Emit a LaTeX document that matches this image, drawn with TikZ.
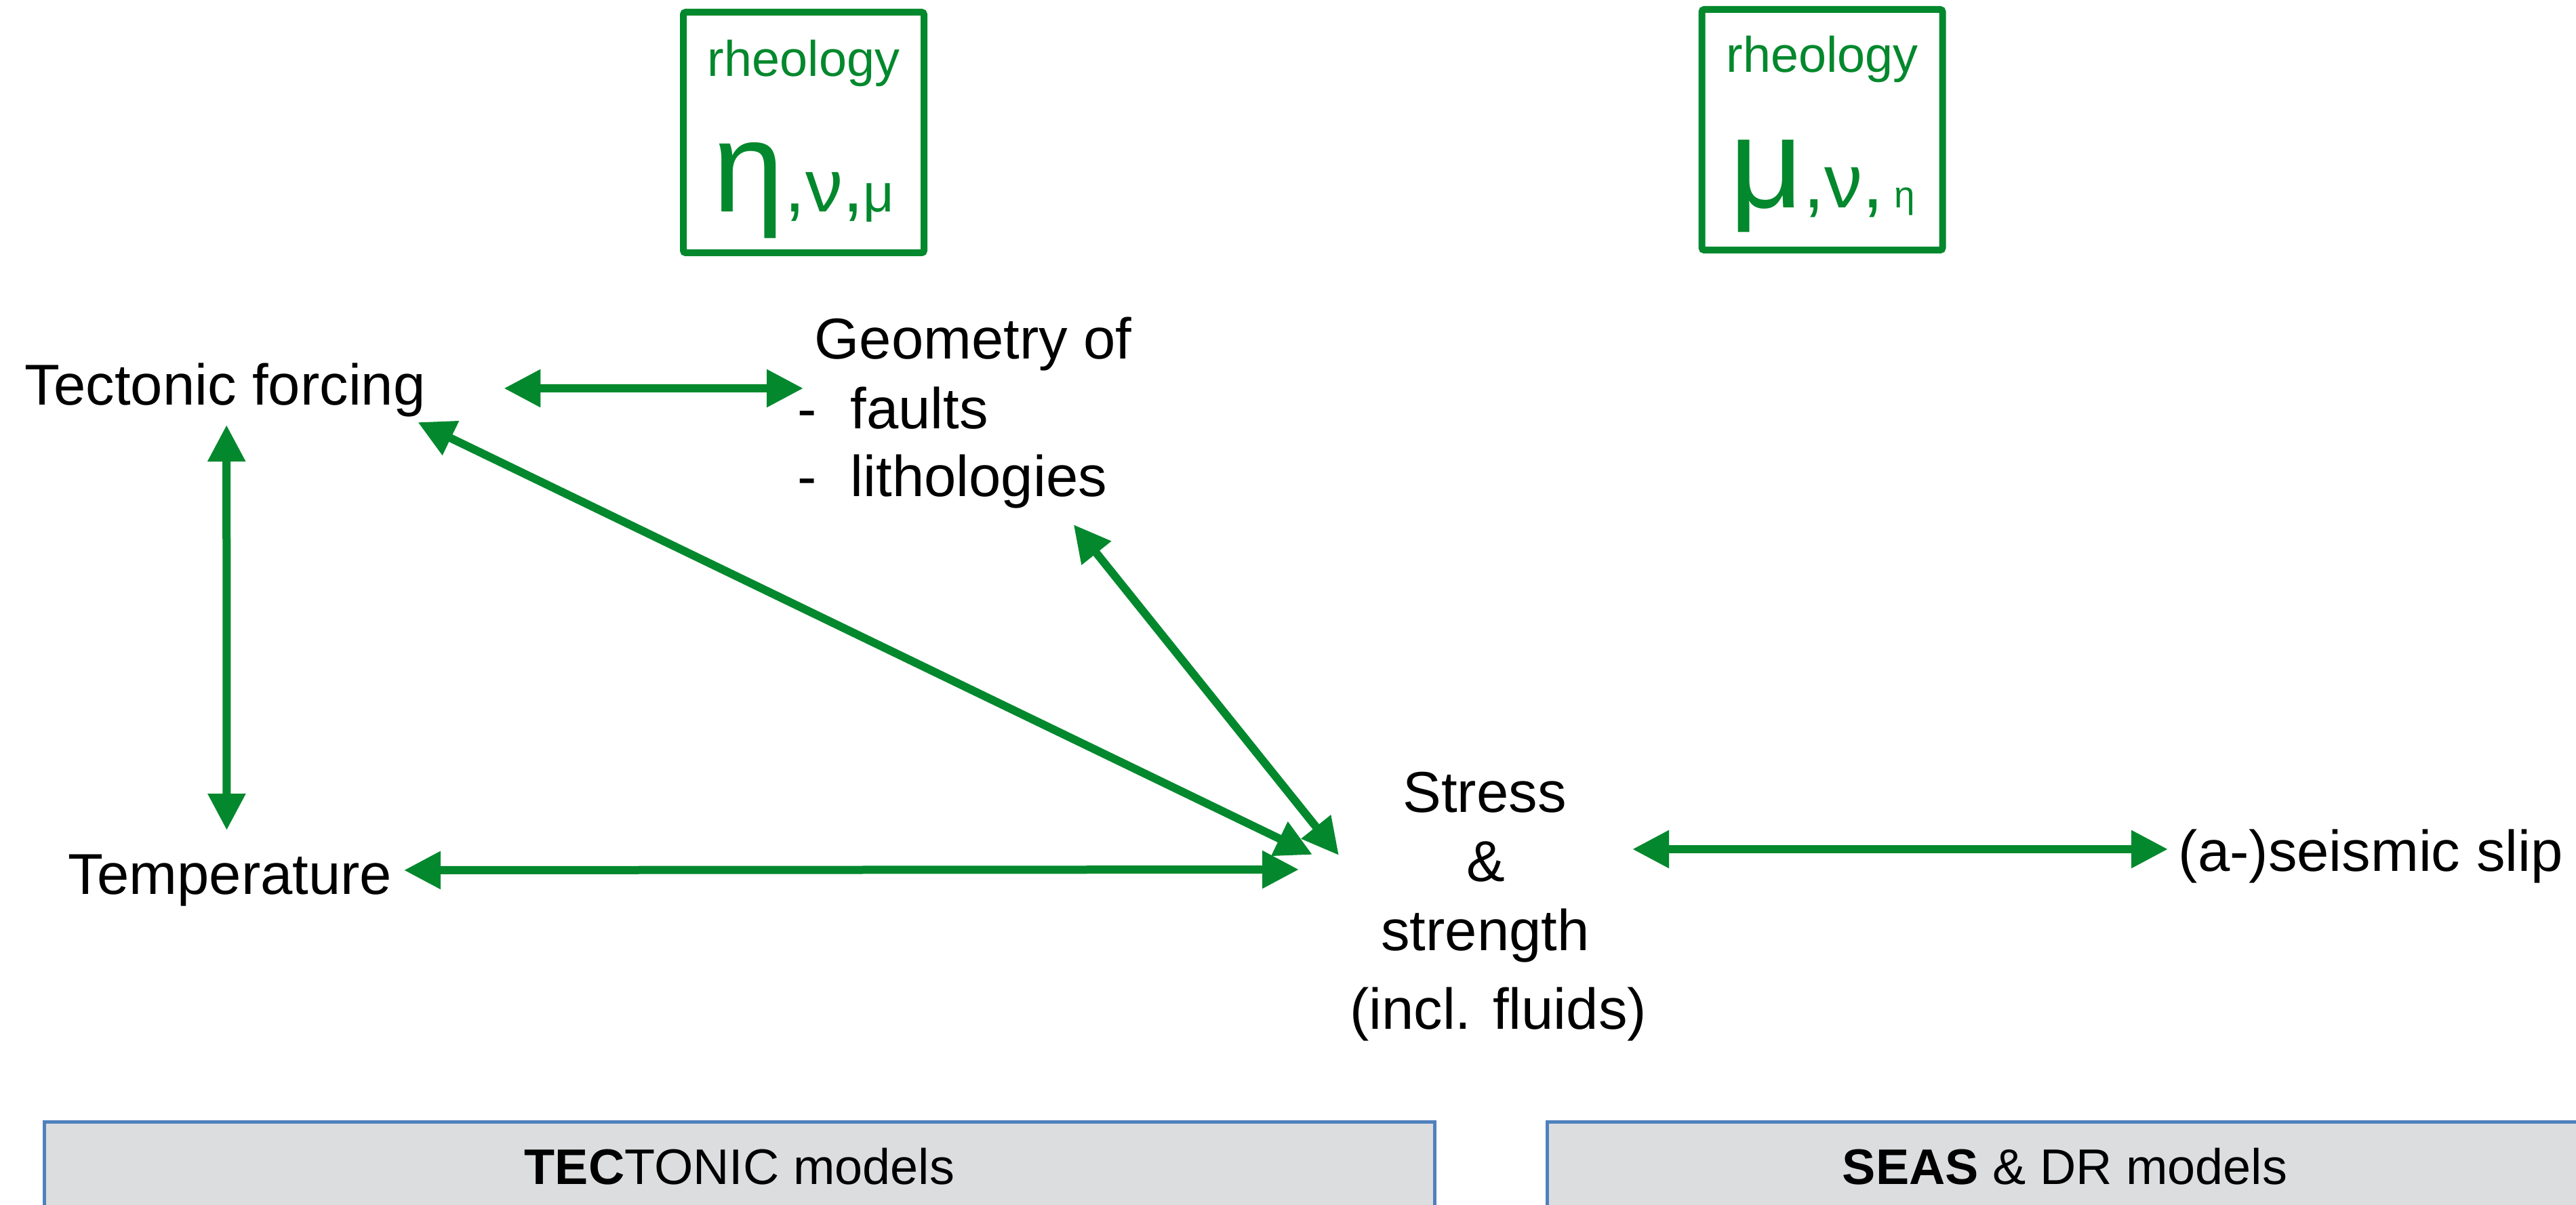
\documentclass[tikz,border=0pt]{standalone}
\usepackage{fontspec}
\setmainfont{Liberation Sans}
\usetikzlibrary{arrows.meta}
\definecolor{linkgreen}{RGB}{3,136,45}
\definecolor{panelgrey}{RGB}{220,221,223}
\definecolor{panelblue}{RGB}{79,129,189}
\newcommand{\sized}[2]{{\fontsize{#1}{#1}\selectfont #2}}

\begin{document}
\begin{tikzpicture}[
        x=1cm,
        y=1cm,
        every node/.style={font=\fontsize{24.2}{29}\selectfont, inner sep=0pt},
        txt/.style={anchor=base west},
        stackline/.style={anchor=base},
        rheobox/.style={
            draw=linkgreen,
            line width=1mm,
            rounded corners=1pt,
            minimum width=3.55cm,
            minimum height=3.55cm
        },
        rheotext/.style={
            text=linkgreen,
            font=\fontsize{21}{21}\selectfont,
            anchor=base
        },
        panel/.style={
            draw=panelblue,
            fill=panelgrey,
            line width=0.5mm,
            minimum height=1.33cm,
            font=\fontsize{21}{21}\selectfont
        },
        link/.style={
            draw=linkgreen,
            line width=1.2mm,
            >={Triangle[length=5.4mm,width=5.3mm]},
            <->
        }
    ]
        \useasboundingbox (0,0) rectangle (38,17.77);

        % Rheology boxes on top
        \node[rheobox] (rheoA) at (11.855,15.815) {};
        \node[rheotext] (rheoA-name) at ([yshift=-1.00cm]rheoA.north) {rheology};
        \node[rheotext] (rheoA-par) at ([yshift=-3.00cm]rheoA.north)
            {\sized{54}{η}\sized{31.3}{,ν,}\sized{22.5}{μ}};

        \node[rheobox] (rheoB) at (26.88,15.855) {};
        \node[rheotext] (rheoB-name) at ([yshift=-0.98cm]rheoB.north) {rheology};
        \node[rheotext] (rheoB-par) at ([yshift=-2.98cm]rheoB.north)
            {\sized{53.8}{μ}\sized{31.9}{,ν,}\sized{15.6}{ η}};

        % Left group
        \node[txt] (tect) at (0.36,11.80) {Tectonic forcing};
        \node[txt] (temp) at (1.00,4.58) {Temperature};

        \node[txt] (geom) at (12.01,12.47) {Geometry of};
        \node[txt] (faults) at (11.76,11.45) {\makebox[0.78cm][l]{-}faults};
        \node[txt] (litho) at (11.76,10.45) {\makebox[0.78cm][l]{-}lithologies};

        % Stress block, one line per node
        \node[stackline] (stress) at (21.90,5.79) {Stress};
        \node[stackline] (amp) at (21.92,4.77) {\&};
        \node[stackline] (strength) at (21.91,3.75) {strength};
        \node[stackline] (fluids) at (22.10,2.59) {(incl. fluids)};

        \node[txt] (slip) at (32.13,4.92) {(a-)seismic slip};

        % Connectors
        \draw[link] ([shift={(1.15,0.24)}]tect.base east)
            -- ([shift={(-0.16,-0.43)}]geom.base west);
        \draw[link] ([shift={(0.02,-0.30)}]tect.base)
            -- ([shift={(-0.05,0.94)}]temp.base);
        \draw[link] ([shift={(-0.12,-0.26)}]tect.base east)
            -- ([shift={(-2.54,-0.63)}]stress.base);
        \draw[link] ([shift={(-0.50,-0.42)}]litho.base east)
            -- ([shift={(-2.15,-0.64)}]stress.base);
        \draw[link] ([shift={(0.17,0.35)}]temp.base east)
            -- ([shift={(-2.76,0.17)}]amp.base);
        \draw[link] ([shift={(2.16,0.47)}]amp.base)
            -- ([shift={(-0.15,0.32)}]slip.base west);

        % Model panels at the bottom
        \node[panel, minimum width=20.51cm] (tecpanel) at (10.91,0.555)
            {\textbf{TEC}TONIC models};
        \node[panel, minimum width=15.27cm] (seaspanel) at (30.46,0.555)
            {\textbf{SEAS} \& DR models};

    \end{tikzpicture}
\end{document}
